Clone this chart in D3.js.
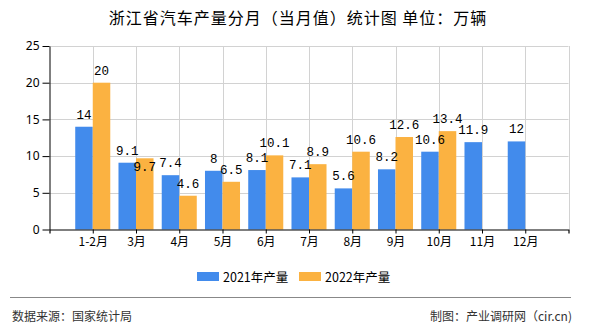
<!DOCTYPE html>
<html>
<head>
<meta charset="utf-8">
<script src="https://cdn.jsdelivr.net/npm/d3@7/dist/d3.min.js"></script>
<style>
  html, body { margin: 0; padding: 0; background: #fff; }
  svg { display: block; }
</style>
</head>
<body>
<svg id="chart" width="590" height="330"></svg>
<script>
const categories = ["1-2月","3月","4月","5月","6月","7月","8月","9月","10月","11月","12月"];
const values2021 = [14, 9.1, 7.4, 8, 8.1, 7.1, 5.6, 8.2, 10.6, 11.9, 12];
const values2022 = [20, 9.7, 4.6, 6.5, 10.1, 8.9, 10.6, 12.6, 13.4, null, null];
const seriesNames = ["2021年产量", "2022年产量"];
const yTicks = [0, 5, 10, 15, 20, 25];

const colors = ["#428bec", "#fbb241"];
const cjk = "'Noto Sans CJK SC', 'Noto Sans', sans-serif";
const numFont = "'Liberation Mono', 'DejaVu Sans Mono', monospace";

const svg = d3.select("#chart");
const L = 49.5, R = 568.5, T = 46, B = 229.5;

const x = d3.scalePoint().domain(categories).range([L, R]).padding(1);
const y = d3.scaleLinear().domain([0, 25]).range([B, T]);
const step = x.step();
const bw = step * 0.405;
const xs = d3.scaleBand().domain([0, 1]).range([-bw, bw]).paddingInner(0);

// gridlines
const grid = svg.append("g");
grid.selectAll("line.h").data(yTicks.filter(d => d > 0)).join("line")
  .attr("x1", L).attr("x2", R)
  .attr("y1", d => Math.round(y(d)) + 0.5).attr("y2", d => Math.round(y(d)) + 0.5)
  .attr("stroke", "#d2d2d2").attr("stroke-width", 1);
grid.selectAll("line.v").data(categories.map(c => x(c)).concat([R])).join("line")
  .attr("x1", d => Math.round(d) + 0.5).attr("x2", d => Math.round(d) + 0.5)
  .attr("y1", T).attr("y2", B)
  .attr("stroke", "#d2d2d2").attr("stroke-width", 1);

// bars
const series = [values2021, values2022];
series.forEach((vals, si) => {
  svg.append("g").selectAll("rect").data(categories.map((c, i) => ({c, v: vals[i]})).filter(d => d.v != null))
    .join("rect")
    .attr("x", d => x(d.c) + xs(si))
    .attr("width", xs.bandwidth())
    .attr("y", d => y(d.v))
    .attr("height", d => y(0) - y(d.v))
    .attr("fill", colors[si]);
});

// axes
const yAxis = svg.append("g").attr("transform", `translate(${L},0)`)
  .call(d3.axisLeft(y).tickValues(yTicks).tickSize(7).tickSizeOuter(0).tickPadding(3));
yAxis.select(".domain").attr("stroke", "#000");
yAxis.selectAll(".tick line").attr("stroke", "#000");
yAxis.selectAll("text").attr("font-family", "'Noto Sans', sans-serif").attr("font-size", 12).attr("fill", "#000");

const xAxis = svg.append("g").attr("transform", `translate(0,${B})`)
  .call(d3.axisBottom(x).tickSize(4).tickSizeOuter(4).tickPadding(4));
xAxis.select(".domain").attr("stroke", "#000").attr("stroke-width", 1.2);
xAxis.selectAll(".tick line").attr("stroke", "#000");
xAxis.selectAll("text").attr("font-family", cjk).attr("font-size", 12).attr("fill", "#000");

// value labels
const charW = 7.2;
const labels = [];
categories.forEach((c, i) => {
  series.forEach((vals, si) => {
    const v = vals[i];
    if (v == null) return;
    const cx = x(c) + xs(si) + xs.bandwidth() / 2;
    const top = y(v);
    const txt = String(v);
    labels.push({cx, top, txt, si, i, yb: top - 8, w: txt.length * charW});
  });
});
// simple collision avoidance: move second-series label inside bar top if it overlaps
categories.forEach((c, i) => {
  const a = labels.find(l => l.i === i && l.si === 0);
  const b = labels.find(l => l.i === i && l.si === 1);
  if (!a || !b) return;
  const hOverlap = (a.cx + a.w / 2) > (b.cx - b.w / 2);
  const vOverlap = Math.abs(a.yb - b.yb) < 12;
  if (hOverlap && vOverlap) b.yb = b.top + 12.5;
});
svg.append("g").selectAll("text").data(labels).join("text")
  .attr("x", d => d.cx).attr("y", d => d.yb)
  .attr("text-anchor", "middle")
  .attr("font-family", numFont).attr("font-size", 12.5).attr("fill", "#000")
  .text(d => d.txt);

// title
svg.append("text").attr("x", 298).attr("y", 24).attr("text-anchor", "middle")
  .attr("font-family", cjk).attr("font-size", 16).attr("letter-spacing", 1).attr("fill", "#000")
  .text("浙江省汽车产量分月（当月值）统计图 单位：万辆");

// legend
const legendX = [197, 299];
seriesNames.forEach((n, i) => {
  svg.append("rect").attr("x", legendX[i]).attr("y", 272).attr("width", 22).attr("height", 9).attr("fill", colors[i]);
  svg.append("text").attr("x", legendX[i] + 26).attr("y", 281.5)
    .attr("font-family", cjk).attr("font-size", 12.5).attr("fill", "#000").text(n);
});

// footer
svg.append("line").attr("x1", 10).attr("x2", 571).attr("y1", 297.5).attr("y2", 297.5)
  .attr("stroke", "#888").attr("stroke-width", 1);
svg.append("text").attr("x", 12).attr("y", 321).attr("font-family", cjk).attr("font-size", 12).attr("fill", "#333")
  .text("数据来源：国家统计局");
svg.append("text").attr("x", 572).attr("y", 321).attr("text-anchor", "end").attr("font-family", cjk).attr("font-size", 12).attr("fill", "#333")
  .text("制图：产业调研网（cir.cn)");
</script>
</body>
</html>
